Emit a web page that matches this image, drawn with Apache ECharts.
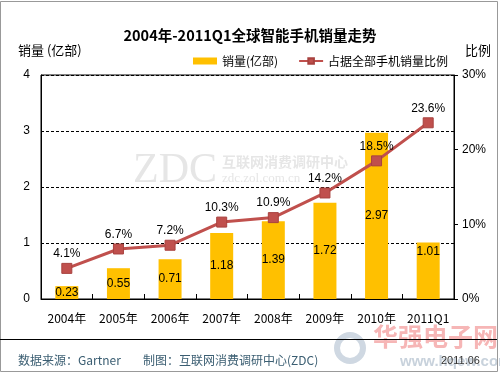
<!DOCTYPE html>
<html><head><meta charset="utf-8">
<script src="https://cdn.jsdelivr.net/npm/echarts@6/dist/echarts.min.js"></script>
<style>html,body{margin:0;padding:0;background:#fff}#c{width:500px;height:375px}</style>
</head><body><div id="c"></div>
<script>
const categories = ['2004年','2005年','2006年','2007年','2008年','2009年','2010年','2011Q1'];
const sales = [0.23, 0.55, 0.71, 1.18, 1.39, 1.72, 2.97, 1.01];
const share = [4.1, 6.7, 7.2, 10.3, 10.9, 14.2, 18.5, 23.6];
const leftTicks = [0, 1, 2, 3, 4];
const rightTicks = [0, 10, 20, 30];

const FONT = '"Liberation Sans", "Noto Sans CJK SC", sans-serif';
const CJK = '"Noto Sans CJK SC", "Liberation Sans", sans-serif';

const chart = echarts.init(document.getElementById('c'), null, {renderer: 'canvas'});
const barData = sales.map((v, i) => i === sales.length - 1
  ? {value: v, label: {position: 'insideTop', distance: 3}}
  : v);

chart.setOption({
  animation: false,
  backgroundColor: '#fff',
  textStyle: {fontFamily: FONT},
  title: {
    text: '2004年-2011Q1全球智能手机销量走势',
    left: 'center', top: 23,
    textStyle: {fontSize: 14.5, fontWeight: 'bold', color: '#000', fontFamily: CJK}
  },
  legend: {
    left: 188, top: 50, itemGap: 20,
    textStyle: {fontSize: 12, color: '#000', fontFamily: CJK},
    data: [
      {name: '销量(亿部)', icon: 'rect', itemStyle: {color: '#FFC000'}},
      {name: '占据全部手机销量比例'}
    ],
    itemWidth: 24, itemHeight: 7
  },
  grid: {left: 41, right: 46, top: 75, bottom: 76, show: true, borderColor: '#000', borderWidth: 1, containLabel: false},
  xAxis: {
    type: 'category', data: categories,
    axisLine: {lineStyle: {color: '#000', width: 1}},
    axisTick: {show: true, inside: true, length: 5, lineStyle: {color: '#000'}},
    axisLabel: {color: '#000', fontSize: 12, margin: 13, fontFamily: CJK, interval: 0}
  },
  yAxis: [
    {
      type: 'value', min: leftTicks[0], max: leftTicks[leftTicks.length - 1], interval: 1,
      axisLine: {show: true, lineStyle: {color: '#000'}},
      axisTick: {show: false},
      axisLabel: {color: '#000', fontSize: 12, margin: 11},
      splitLine: {show: true, lineStyle: {color: '#000', type: [3, 2], width: 1}}
    },
    {
      type: 'value', min: rightTicks[0], max: rightTicks[rightTicks.length - 1], interval: 10,
      axisLine: {show: true, lineStyle: {color: '#000'}},
      axisTick: {show: true, length: 4, lineStyle: {color: '#000'}},
      axisLabel: {color: '#000', fontSize: 12, margin: 8, formatter: '{value}%'},
      splitLine: {show: false}
    }
  ],
  series: [
    {
      name: '销量(亿部)', type: 'bar', data: barData, barWidth: 23,
      itemStyle: {color: '#FFC000'},
      label: {show: true, position: 'inside', color: '#000', fontSize: 12}
    },
    {
      name: '占据全部手机销量比例', type: 'line', yAxisIndex: 1, data: share,
      lineStyle: {color: '#C0504D', width: 3},
      itemStyle: {color: '#C0504D', borderColor: '#A8423F', borderWidth: 1},
      symbol: 'rect', symbolSize: 10,
      label: {show: true, position: 'top', distance: 3, color: '#000', fontSize: 12, formatter: p => p.value.toFixed(1) + '%'}
    }
  ],
  graphic: [
    {type: 'rect', silent: true, shape: {x: 0.5, y: 1.5, width: 497, height: 370}, style: {fill: 'none', stroke: '#999', lineWidth: 1}},
    {type: 'text', x: 18, y: 44, style: {text: '销量 (亿部)', font: '13px ' + CJK, fill: '#000'}},
    {type: 'text', x: 465, y: 44, style: {text: '比例', font: '13px ' + CJK, fill: '#000'}},
    {type: 'text', x: 133, y: 150, z: -1, style: {text: 'ZDC', font: '42px "Liberation Serif", serif', fill: '#e6e6e6'}},
    {type: 'text', x: 222, y: 155, z: -1, style: {text: '互联网消费调研中心', font: 'bold 14px ' + CJK, fill: '#e6e6e6'}},
    {type: 'text', x: 222, y: 172, z: -1, style: {text: 'zdc.zol.com.cn', font: '13px "Liberation Serif", serif', fill: '#e6e6e6'}},
    {type: 'line', shape: {x1: 0, y1: 339.5, x2: 497, y2: 339.5}, style: {stroke: '#000', lineWidth: 1}},
    {type: 'text', x: 373, y: 324, z: -1, style: {text: '华强电子网', font: 'bold 25px ' + CJK, fill: '#f6b6b6'}},
    {type: 'text', x: 400, y: 354, z: -1, style: {text: 'www.hqew.com', font: 'bold 15px ' + FONT, fill: '#c8d2dc'}},
    {type: 'circle', z: -1, shape: {cx: 350, cy: 348, r: 13}, style: {fill: 'none', stroke: '#cfd8e2', lineWidth: 6}},
    {type: 'text', x: 18, y: 354, style: {text: '数据来源：Gartner', font: '12px ' + CJK, fill: '#3b5e72'}},
    {type: 'text', x: 143, y: 354, style: {text: '制图：互联网消费调研中心(ZDC)', font: '12px ' + CJK, fill: '#3b5e72'}},
    {type: 'text', x: 441, y: 355, style: {text: '2011.06', font: '11px ' + FONT, fill: '#333'}}
  ]
});
</script></body></html>
